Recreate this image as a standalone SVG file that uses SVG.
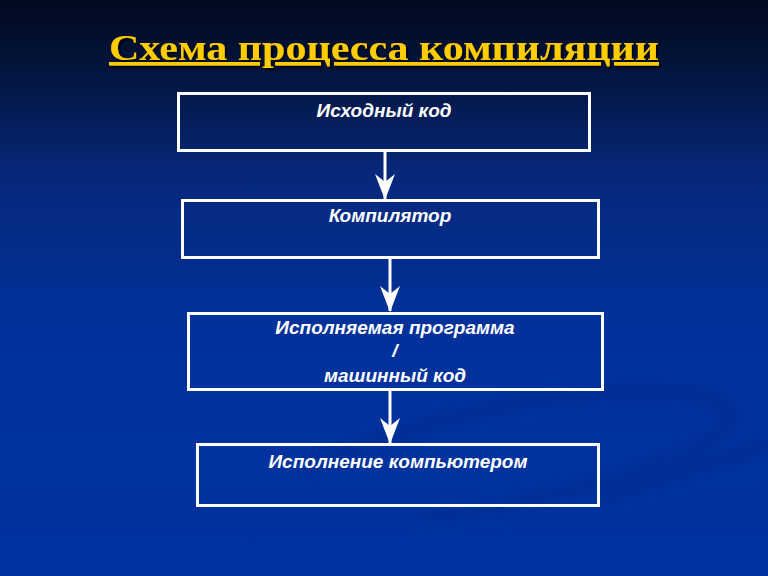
<svg xmlns="http://www.w3.org/2000/svg" width="768" height="576" viewBox="0 0 768 576">
<defs>
<linearGradient id="bg" x1="0" y1="0" x2="0" y2="1">
<stop offset="0" stop-color="#010920"/>
<stop offset="0.12" stop-color="#03143c"/>
<stop offset="0.3" stop-color="#06287a"/>
<stop offset="0.55" stop-color="#02319a"/>
<stop offset="1" stop-color="#0033a0"/>
</linearGradient>
<filter id="blur" x="-20%" y="-20%" width="140%" height="140%"><feGaussianBlur stdDeviation="6"/></filter>
<filter id="tsh" x="-5%" y="-20%" width="110%" height="140%"><feDropShadow dx="2" dy="2" stdDeviation="0.8" flood-color="#000" flood-opacity="0.8"/></filter>
<marker id="ah" viewBox="0 0 26 20" refX="25" refY="10" markerWidth="26" markerHeight="20" markerUnits="userSpaceOnUse" orient="auto">
<path d="M0,0 L8,10 L0,20 L26,10 Z" fill="#fff"/>
</marker>
<style>
.box{fill:none;stroke:#fff;stroke-width:3}
.lbl{font-family:"Liberation Sans",Arial,sans-serif;font-weight:bold;font-style:italic;font-size:19px;fill:#fff;text-anchor:middle}
.con{stroke:#fff;stroke-width:3;fill:none}
</style>
</defs>
<rect width="768" height="576" fill="url(#bg)"/>
<g opacity="0.2" filter="url(#blur)">
<path d="M300,470 C420,420 560,380 700,395 C730,400 740,420 710,440 C660,470 560,500 420,520" stroke="#001a5c" stroke-width="10" fill="none"/>
<path d="M600,500 C660,480 720,460 768,445" stroke="#001a5c" stroke-width="12" fill="none"/>
</g>
<g id="title" filter="url(#tsh)">
<text x="384" y="60" text-anchor="middle" font-family="'Liberation Serif','Times New Roman',serif" font-weight="bold" font-size="36" fill="#ffcc00" text-decoration="underline" textLength="550" lengthAdjust="spacingAndGlyphs">Схема процесса компиляции</text>
</g>
<g id="connectors">
<line class="con" x1="385" y1="151" x2="385" y2="199" marker-end="url(#ah)"/>
<line class="con" x1="390" y1="258" x2="390" y2="311" marker-end="url(#ah)"/>
<line class="con" x1="390" y1="390" x2="390" y2="443" marker-end="url(#ah)"/>
</g>
<g id="n1">
<rect class="box" x="178.5" y="93.5" width="411" height="57"/>
<text class="lbl" x="384" y="117">Исходный код</text>
</g>
<g id="n2">
<rect class="box" x="182.5" y="200.5" width="416" height="57"/>
<text class="lbl" x="390" y="222">Компилятор</text>
</g>
<g id="n3">
<rect class="box" x="188.5" y="313.5" width="414" height="76"/>
<text class="lbl" x="395" y="334">Исполняемая программа</text>
<text class="lbl" x="395" y="357">/</text>
<text class="lbl" x="395" y="382">машинный код</text>
</g>
<g id="n4">
<rect class="box" x="197.5" y="444.5" width="401" height="61"/>
<text class="lbl" x="398" y="468">Исполнение компьютером</text>
</g>
</svg>
